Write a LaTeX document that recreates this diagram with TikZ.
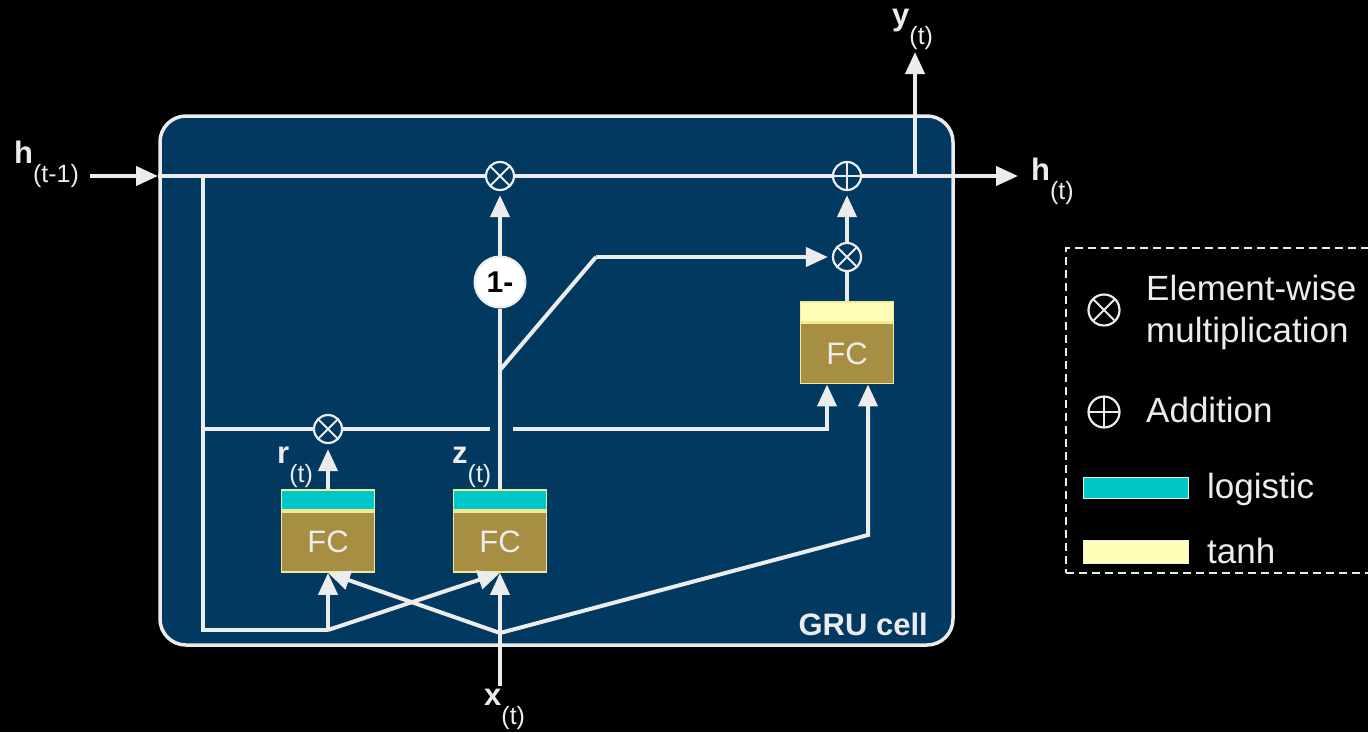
\documentclass[tikz,border=0pt]{standalone}
\usepackage{fontspec}
\setmainfont{Liberation Sans}
\usetikzlibrary{arrows.meta}
\definecolor{cellblue}{RGB}{2,57,97}
\definecolor{wire}{RGB}{236,236,236}
\definecolor{fcbody}{RGB}{166,142,66}
\definecolor{fcedge}{RGB}{242,234,150}
\definecolor{logi}{RGB}{0,200,200}
\definecolor{tanhc}{RGB}{255,255,185}
\newcommand\sublbl[2]{{\fontsize{31}{31}\selectfont\bfseries #1}\raisebox{-19pt}{\fontsize{25}{25}\selectfont #2}}
\begin{document}
\begin{tikzpicture}[x=1pt,y=-1pt,
  wirel/.style={draw=wire, line width=4pt},
  arr/.style={wirel, -{Triangle[length=22pt,width=19pt]}},
  opc/.style={circle, draw=wire, line width=2.2pt, fill=cellblue, minimum size=28pt, inner sep=0pt},
  mulop/.style={opc, path picture={\draw[draw=wire,line width=2pt]
     ([shift={(-20pt,-20pt)}]path picture bounding box.center) -- ([shift={(20pt,20pt)}]path picture bounding box.center)
     ([shift={(-20pt,20pt)}]path picture bounding box.center) -- ([shift={(20pt,-20pt)}]path picture bounding box.center);}},
  addop/.style={opc, path picture={\draw[draw=wire,line width=2pt]
     ([shift={(-20pt,0pt)}]path picture bounding box.center) -- ([shift={(20pt,0pt)}]path picture bounding box.center)
     ([shift={(0pt,20pt)}]path picture bounding box.center) -- ([shift={(0pt,-20pt)}]path picture bounding box.center);}},
  fcb/.style={draw=fcedge, line width=1.8pt, fill=fcbody, minimum width=93pt, minimum height=60pt, inner sep=0pt,
     font=\fontsize{31}{31}\selectfont, text=wire},
  band/.style={draw=fcedge, line width=1.8pt, minimum width=93pt, minimum height=20pt, inner sep=0pt, anchor=south},
  lbl/.style={text=wire, inner sep=0pt, anchor=base west},
  ltext/.style={text=wire, inner sep=0pt, anchor=base west, font=\fontsize{35}{35}\selectfont},
  lbar/.style={draw=wire, line width=1pt, minimum width=105pt, minimum height=21pt, inner sep=0pt}
]
\useasboundingbox (0,0) rectangle (1368,732);
\clip (0,0) rectangle (1368,732);
\fill[black] (0,0) rectangle (1368,732);

% cell
\node[draw=wire, line width=3.5pt, fill=cellblue, rounded corners=26pt,
      minimum width=793pt, minimum height=529pt, inner sep=0pt] (cell) at (556.5,380.5) {};
\node[lbl, anchor=base east, font=\fontsize{31}{31}\selectfont\bfseries] (gru) at (928,635) {GRU cell};

% operators
\node[mulop] (m1) at (500,176) {};
\node[addop] (pl) at (847,176) {};
\node[mulop] (m2) at (847,257) {};
\node[mulop] (mr) at (328,429) {};
\node[circle, draw=wire, line width=2pt, fill=white, minimum size=51pt, inner sep=0pt,
      font=\fontsize{30}{30}\selectfont\bfseries, text=black] (one) at (500,282) {1-};

% FC boxes
\node[fcb] (rfc) at (328,542) {FC};
\node[band, fill=logi] (rband) at (rfc.north) {};
\node[fcb] (zfc) at (500,542) {FC};
\node[band, fill=logi] (zband) at (zfc.north) {};
\node[fcb] (hfc) at (847,353.5) {FC};
\node[band, fill=tanhc] (hband) at (hfc.north) {};

% coordinates
\coordinate (hin) at (90,176);
\coordinate (cin) at (158,176);
\coordinate (jl) at (203,176);
\coordinate (jy) at (915,176);
\coordinate (hout) at (1018,176);
\coordinate (yout) at (915,52);
\coordinate (bl) at (203,630);
\coordinate (jr) at (328,630);
\coordinate (ml) at (203,429);
\coordinate (ga) at (490,429);
\coordinate (gb) at (513,429);
\coordinate (rc) at (827,429);
\coordinate (zb) at (500,370);
\coordinate (zk) at (596,257);
\coordinate (xin) at (500,686);
\coordinate (xj) at (500,633);
\coordinate (xk) at (868,535);

% connectors
\draw[arr] (hin) -- (cin);
\draw[wirel] (cin) -- (m1);
\draw[wirel] (m1) -- (pl);
\draw[arr] (pl) -- (hout);
\draw[arr] (jy) -- (yout);
\draw[wirel] (jl) -- (bl) -- (jr);
\draw[arr] (jr) -- (rfc.south);
\draw[arr] (jr) -- (zfc.south);
\draw[wirel] (ml) -- (mr);
\draw[wirel] (mr) -- (ga);
\draw[arr] (gb) -- (rc) -- (hfc.south -| rc);
\draw[arr, shorten >=5pt] (rband) -- (mr);
\draw[wirel] (zband) -- (one);
\draw[arr, shorten >=4pt] (one) -- (m1);
\draw[wirel] (zb) -- (zk);
\draw[arr, shorten >=4pt] (zk) -- (m2);
\draw[wirel] (hband) -- (m2);
\draw[arr, shorten >=4pt] (m2) -- (pl);
\draw[arr] (xin) -- (zfc.south);
\draw[arr] (xj) -- (rfc.south);
\draw[arr] (xj) -- (xk) -- (hfc.south -| xk);

% labels
\node[lbl] (hprev) at (14,163) {\sublbl{h}{(t-1)}};
\node[lbl] (hnext) at (1031,180) {\sublbl{h}{(t)}};
\node[lbl] (ylab) at (892,25) {\sublbl{y}{(t)}};
\node[lbl] (rlab) at (277,463) {\sublbl{r}{(t)}};
\node[lbl] (zlab) at (452,463) {\sublbl{z}{(t)}};
\node[lbl] (xlab) at (484,705) {\sublbl{x}{(t)}};

% legend
\node[draw=wire, line width=2pt, dash pattern=on 8pt off 5pt, minimum width=340pt, minimum height=325pt,
      inner sep=0pt, anchor=north west] (legend) at (1065,247) {};
\node[mulop, fill=black, minimum size=31pt] (lm) at (1104,310) {};
\node[ltext] (le1) at (1146,300) {Element-wise};
\node[ltext] (le2) at (1146,342) {multiplication};
\node[addop, fill=black, minimum size=31pt] (la) at (1104,412) {};
\node[ltext] (le3) at (1146,422) {Addition};
\node[lbar, fill=logi] (lc) at (1135.5,488) {};
\node[ltext] (le4) at (1207,498) {logistic};
\node[lbar, fill=tanhc, minimum height=23pt] (lt) at (1135.5,551.5) {};
\node[ltext] (le5) at (1207,563) {tanh};
\end{tikzpicture}
\end{document}
